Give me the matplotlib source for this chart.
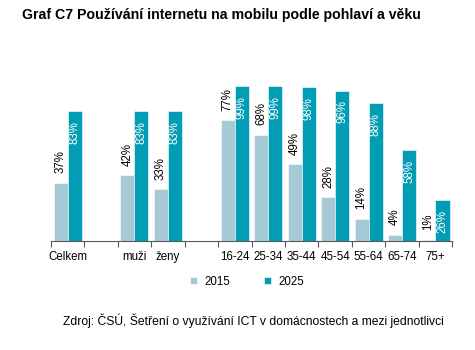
import matplotlib.pyplot as plt
import numpy as np

plt.rcParams['font.family'] = ['Liberation Sans', 'DejaVu Sans']

# slots: empty strings are gaps between groups
categories = ['Celkem', '', 'muži', 'ženy', '', '16-24', '25-34', '35-44',
              '45-54', '55-64', '65-74', '75+']
v2015 = [37, None, 42, 33, None, 77, 68, 49, 28, 14, 4, 1]
v2025 = [83, None, 83, 83, None, 99, 99, 98, 96, 88, 58, 26]
series_names = ['2015', '2025']

c2015 = '#a6c9d6'
c2025 = '#009db4'

fig = plt.figure(figsize=(4.75, 3.5), dpi=100)
ax = fig.add_axes([0.107, 0.311, 0.845, 0.448])

x = np.arange(len(categories))
w = 0.42
idx = [i for i, v in enumerate(v2015) if v is not None]
a = [v2015[i] for i in idx]
b = [v2025[i] for i in idx]
xi = x[idx]

b1 = ax.bar(xi - w / 2, a, w, color=c2015, edgecolor='white', linewidth=0.4, label=series_names[0])
b2 = ax.bar(xi + w / 2, b, w, color=c2025, edgecolor='white', linewidth=0.4, label=series_names[1])

for rect, v in zip(b1, a):
    ax.annotate(f'{v}%', (rect.get_x() + rect.get_width() / 2, v), xytext=(0, 7),
                textcoords='offset points', ha='center', va='bottom',
                rotation=90, fontsize=8.3, color='black')
for rect, v in zip(b2, b):
    ax.annotate(f'{v}%', (rect.get_x() + rect.get_width() / 2, v), xytext=(0, -7),
                textcoords='offset points', ha='center', va='top',
                rotation=90, fontsize=8.3, color='white')

ax.set_xlim(-0.5, len(categories) - 0.5)
ax.set_ylim(0, 100)
ax.set_yticks([])
for s in ['left', 'right', 'top']:
    ax.spines[s].set_visible(False)
ax.spines['bottom'].set_color('#595959')
ax.spines['bottom'].set_linewidth(0.8)

ax.set_xticks(np.arange(len(categories) + 1) - 0.5)
ax.set_xticklabels([])
ax.tick_params(axis='x', length=4, color='#595959', width=0.8)
for i, c in enumerate(categories):
    ax.text(i, -6, c, ha='center', va='top', fontsize=8.3)

leg = fig.legend(handles=[b1, b2], labels=series_names, loc='center',
                 bbox_to_anchor=(0.52, 0.195), ncol=2, frameon=False,
                 fontsize=8.3, handlelength=0.6, handleheight=0.6,
                 columnspacing=3.0, handletextpad=0.6)

fig.text(0.046, 0.957, 'Graf C7 Používání internetu na mobilu podle pohlaví a věku',
         fontsize=10.15, fontweight='bold', va='center', ha='left')
fig.text(0.133, 0.083, 'Zdroj: ČSÚ, Šetření o využívání ICT v domácnostech a mezi jednotlivci',
         fontsize=8.75, va='center', ha='left')

fig.savefig('out.png', dpi=100)
